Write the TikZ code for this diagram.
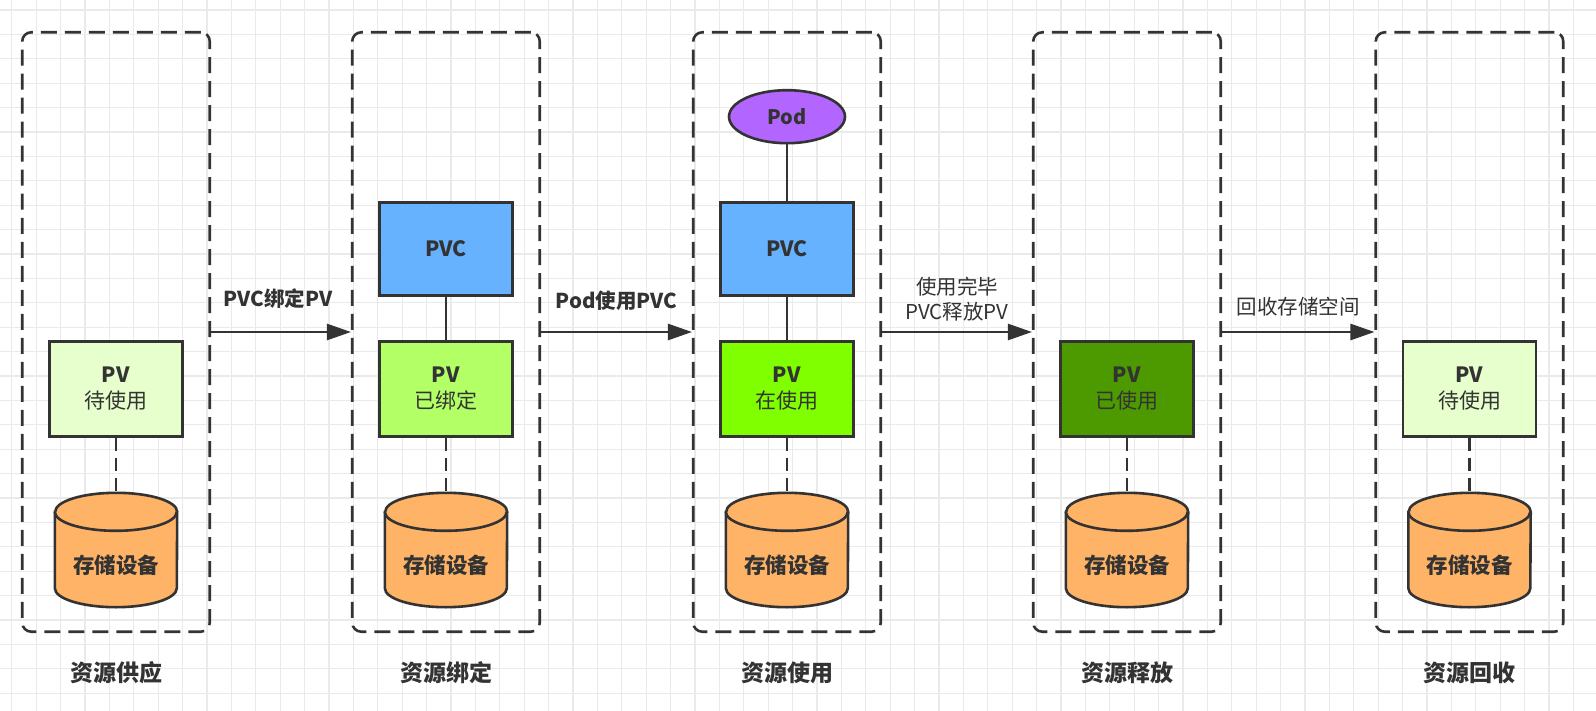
\documentclass[tikz,border=0pt]{standalone}
\usepackage{fontspec}
\setmainfont{Noto Sans CJK SC}
\usetikzlibrary{shapes.geometric,arrows.meta,calc}
\definecolor{ink}{HTML}{333333}
\definecolor{gridc}{HTML}{EAEAEA}
\definecolor{pvfree}{HTML}{E6FFCC}
\definecolor{pvbound}{HTML}{B3FF66}
\definecolor{pvuse}{HTML}{80FF00}
\definecolor{pvused}{HTML}{4D9900}
\definecolor{pvcc}{HTML}{66B2FF}
\definecolor{podc}{HTML}{B266FF}
\definecolor{cylc}{HTML}{FFB366}
\newcommand{\storage}[3]{%
  \node[cylnode] (#1) at (#2,#3) {};
  \filldraw[cylline] ([yshift=-19pt]#1.north west) -- ([yshift=19pt]#1.south west)
    arc[start angle=180, end angle=360, x radius=61pt, y radius=19pt]
    -- ([yshift=-19pt]#1.north east)
    arc[start angle=0, end angle=180, x radius=61pt, y radius=19pt] -- cycle;
  \draw[cylline] ([yshift=-19pt]#1.north west)
    arc[start angle=180, end angle=360, x radius=61pt, y radius=19pt];
  \node[cyltext] (#1t) at (#2,#3+15) {存储设备};
}
\begin{document}
\begin{tikzpicture}[x=1pt,y=-1pt,
  stagebox/.style={draw=ink, line width=2.6pt, dash pattern=on 16pt off 8pt,
    rounded corners=9pt, minimum width=187.5pt, minimum height=599.4pt, inner sep=0pt},
  pvbox/.style={draw=ink, line width=2.6pt, minimum width=133pt, minimum height=94.5pt,
    inner sep=0pt, align=center, text=ink, font=\fontsize{21}{26}\selectfont},
  pvcbox/.style={draw=ink, line width=2.6pt, fill=pvcc, minimum width=133pt, minimum height=93pt,
    inner sep=0pt, text=ink, font=\fontsize{21}{26}\selectfont\bfseries},
  podnode/.style={ellipse, draw=ink, line width=2.6pt, fill=podc, minimum width=116pt,
    minimum height=53pt, inner sep=0pt, text=ink, font=\fontsize{20}{24}\selectfont\bfseries},
  cylnode/.style={draw=none, minimum width=122pt, minimum height=114pt, inner sep=0pt},
  cylline/.style={draw=ink, line width=2.6pt, fill=cylc},
  cyltext/.style={text=ink, inner sep=0pt, font=\fontsize{21.5}{26}\selectfont\bfseries},
  solidlink/.style={draw=ink, line width=2.6pt},
  dashlink/.style={draw=ink, line width=2.6pt, dash pattern=on 13pt off 7pt},
  flow/.style={draw=ink, line width=2.6pt, -{Triangle[length=24pt,width=16pt]}},
  flowlbl/.style={text=ink, align=center, inner sep=0pt, font=\fontsize{20.5}{25}\selectfont},
  stagelbl/.style={text=ink, inner sep=0pt, font=\fontsize{23}{28}\selectfont\bfseries}
]
\useasboundingbox (0,0) rectangle (1596,711);
\fill[white] (0,0) rectangle (1596,711);
\foreach \i in {0,...,65} { \draw[gridc, line width=1.2pt] ({11.7+24.4*\i},0) -- ({11.7+24.4*\i},711); }
\foreach \j in {0,...,29} { \draw[gridc, line width=1.2pt] (0,{10+24.4*\j}) -- (1596,{10+24.4*\j}); }

% stage boxes
\node[stagebox] (b1) at (116,332) {};
\node[stagebox] (b2) at (446,332) {};
\node[stagebox] (b3) at (787,332) {};
\node[stagebox] (b4) at (1127,332) {};
\node[stagebox] (b5) at (1469.5,332) {};

% stage 1
\node[pvbox, fill=pvfree] (pv1) at (116,389) {\textbf{PV}\\待使用};
\storage{s1}{116}{550}
\draw[dashlink] (pv1.south) -- (s1.north);

% stage 2
\node[pvcbox] (pvc2) at (446,249) {PVC};
\node[pvbox, fill=pvbound] (pv2) at (446,389) {\textbf{PV}\\已绑定};
\storage{s2}{446}{550}
\draw[solidlink] (pvc2.south) -- (pv2.north);
\draw[dashlink] (pv2.south) -- (s2.north);

% stage 3
\node[podnode] (pod3) at (787,116.7) {Pod};
\node[pvcbox] (pvc3) at (787,249) {PVC};
\node[pvbox, fill=pvuse] (pv3) at (787,389) {\textbf{PV}\\在使用};
\storage{s3}{787}{550}
\draw[solidlink] (pod3.south) -- (pvc3.north);
\draw[solidlink] (pvc3.south) -- (pv3.north);
\draw[dashlink] (pv3.south) -- (s3.north);

% stage 4
\node[pvbox, fill=pvused] (pv4) at (1127,389) {\textbf{PV}\\已使用};
\storage{s4}{1127}{550}
\draw[dashlink] (pv4.south) -- (s4.north);

% stage 5
\node[pvbox, fill=pvfree] (pv5) at (1469.5,389) {\textbf{PV}\\待使用};
\storage{s5}{1469.5}{550}
\draw[dashlink] (pv5.south) -- (s5.north);

% flows
\draw[flow] (b1) -- (b2);
\draw[flow] (b2) -- (b3);
\draw[flow] (b3) -- (b4);
\draw[flow] (b4) -- (b5);
\node[flowlbl, font=\fontsize{20.5}{25}\selectfont\bfseries] (f1) at ($(b1.east)!0.5!(b2.west)+(-3,-33)$) {PVC绑定PV};
\node[flowlbl, font=\fontsize{20.5}{25}\selectfont\bfseries] (f2) at ($(b2.east)!0.5!(b3.west)+(0,-31)$) {Pod使用PVC};
\node[flowlbl] (f3) at ($(b3.east)!0.5!(b4.west)+(0,-33)$) {使用完毕\\PVC释放PV};
\node[flowlbl] (f4) at ($(b4.east)!0.5!(b5.west)+(0,-25)$) {回收存储空间};

% stage labels
\node[stagelbl] (t1) at (116,673) {资源供应};
\node[stagelbl] (t2) at (446,673) {资源绑定};
\node[stagelbl] (t3) at (787,673) {资源使用};
\node[stagelbl] (t4) at (1127,673) {资源释放};
\node[stagelbl] (t5) at (1469.5,673) {资源回收};
\end{tikzpicture}
\end{document}
